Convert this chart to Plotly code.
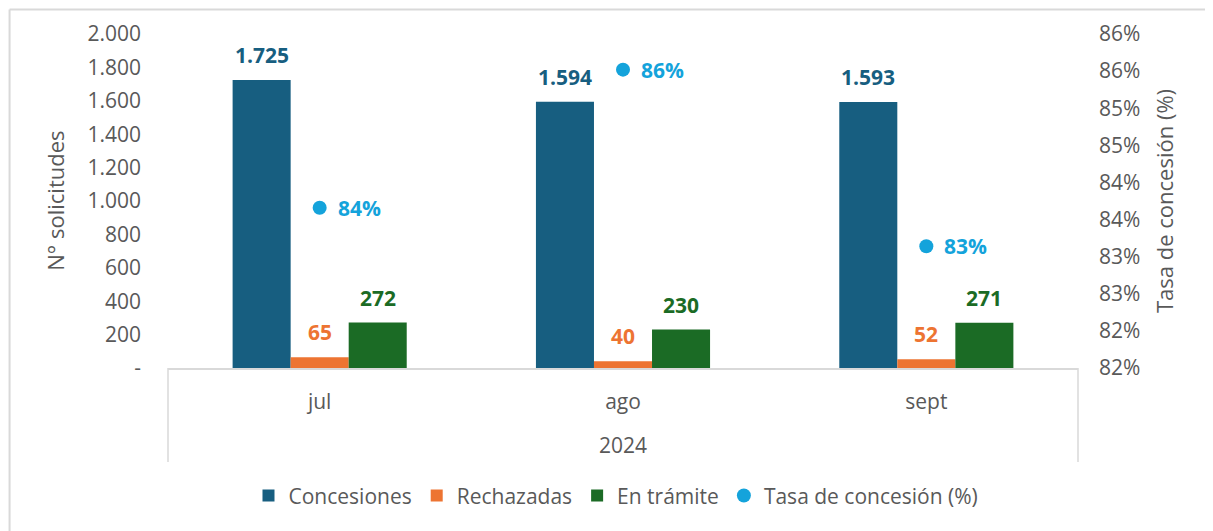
import plotly.graph_objects as go

months = ["jul", "ago", "sept"]
year_label = "2024"
concesiones = [1725, 1594, 1593]
rechazadas = [65, 40, 52]
en_tramite = [272, 230, 271]
tasa = [0.8366, 0.8552, 0.8314]

left_tickvals = [0, 200, 400, 600, 800, 1000, 1200, 1400, 1600, 1800, 2000]
left_ticktext = ["-", "200", "400", "600", "800", "1.000", "1.200", "1.400", "1.600", "1.800", "2.000"]
right_tickvals = [0.815, 0.82, 0.825, 0.83, 0.835, 0.84, 0.845, 0.85, 0.855, 0.86]
right_ticktext = ["82%", "82%", "83%", "83%", "84%", "84%", "85%", "85%", "86%", "86%"]

C_BLUE = "#175E80"
C_ORANGE = "#ED7432"
C_GREEN = "#1B6B25"
C_LIGHT = "#14A3DB"
GRAY = "#595959"
LINE = "#D9D9D9"
FONT = "Open Sans"
FS = 21

def fmt_int(v):
    return f"{v:,}".replace(",", ".")

fig = go.Figure()
series = [("Concesiones", concesiones, C_BLUE), ("Rechazadas", rechazadas, C_ORANGE), ("En trámite", en_tramite, C_GREEN)]
for name, vals, col in series:
    fig.add_trace(go.Bar(name=name, x=months, y=vals, marker=dict(color=col, line=dict(width=0)),
                         hoverinfo="skip"))

fig.add_trace(go.Scatter(name="Tasa de concesión (%)", x=months, y=tasa, yaxis="y2", mode="markers",
                         marker=dict(color=C_LIGHT, size=14)))

annotations = []
bar_w = 58
for i, (name, vals, col) in enumerate(series):
    for m, v in zip(months, vals):
        annotations.append(dict(x=m, y=v, xref="x", yref="y", text=f"<b>{fmt_int(v)}</b>",
                                showarrow=False, xshift=(i - 1) * bar_w, yshift=25, yanchor="middle",
                                font=dict(family=FONT, size=FS, color=col)))
for m, v in zip(months, tasa):
    annotations.append(dict(x=m, y=v, xref="x", yref="y2", text=f"<b>{v:.0%}</b>", showarrow=False,
                            xanchor="left", xshift=16, yanchor="middle",
                            font=dict(family=FONT, size=FS, color=C_LIGHT)))

annotations.append(dict(x=0.5, y=-0.2305, xref="paper", yref="paper", text=year_label, showarrow=False,
                        yanchor="middle", font=dict(family=FONT, size=FS, color=GRAY)))
annotations.append(dict(x=-0.1245, y=0.5, xref="paper", yref="paper", text="N° solicitudes", showarrow=False,
                        textangle=-90, xanchor="center", yanchor="middle",
                        font=dict(family=FONT, size=22, color=GRAY)))
annotations.append(dict(x=1.0945, y=0.5, xref="paper", yref="paper", text="Tasa de concesión (%)",
                        showarrow=False, textangle=-90, xanchor="center", yanchor="middle",
                        font=dict(family=FONT, size=22, color=GRAY)))

shapes = [
    dict(type="line", xref="paper", yref="paper", x0=0, x1=0, y0=0, y1=-0.2814, line=dict(color=LINE, width=1.5)),
    dict(type="line", xref="paper", yref="paper", x0=1, x1=1, y0=0, y1=-0.2814, line=dict(color=LINE, width=1.5)),
    dict(type="line", xref="paper", yref="paper", x0=-0.1741, x1=1.6, y0=1.0734, y1=1.0734,
         line=dict(color=LINE, width=2)),
    dict(type="line", xref="paper", yref="paper", x0=-0.1741, x1=-0.1741, y0=-1.0, y1=1.0734,
         line=dict(color=LINE, width=2)),
]

fig.update_layout(
    width=1205, height=523,
    margin=dict(l=160, r=135, t=26, b=163),
    paper_bgcolor="white", plot_bgcolor="white",
    barmode="group", bargap=0.426, bargroupgap=0,
    font=dict(family=FONT, size=FS, color=GRAY),
    showlegend=True,
    legend=dict(orientation="h", x=0.4923, xanchor="center", y=-0.383, yanchor="middle",
                font=dict(family=FONT, size=FS, color=GRAY), itemclick=False, tracegroupgap=0),
    xaxis=dict(showline=True, linecolor=LINE, linewidth=1.5, showgrid=False, ticks="",
               ticklabelstandoff=14, tickfont=dict(family=FONT, size=FS, color=GRAY)),
    yaxis=dict(range=[0, 2000], tickvals=left_tickvals, ticktext=left_ticktext, showgrid=False,
               zeroline=False, showline=False, ticks="", ticklabelstandoff=26,
               tickfont=dict(family=FONT, size=FS, color=GRAY)),
    yaxis2=dict(range=[0.815, 0.86], overlaying="y", side="right", tickvals=right_tickvals,
                ticktext=right_ticktext, showgrid=False, zeroline=False, showline=False, ticks="",
                ticklabelstandoff=20, tickfont=dict(family=FONT, size=FS, color=GRAY)),
    annotations=annotations,
    shapes=shapes,
)

fig.write_html("out.html")
